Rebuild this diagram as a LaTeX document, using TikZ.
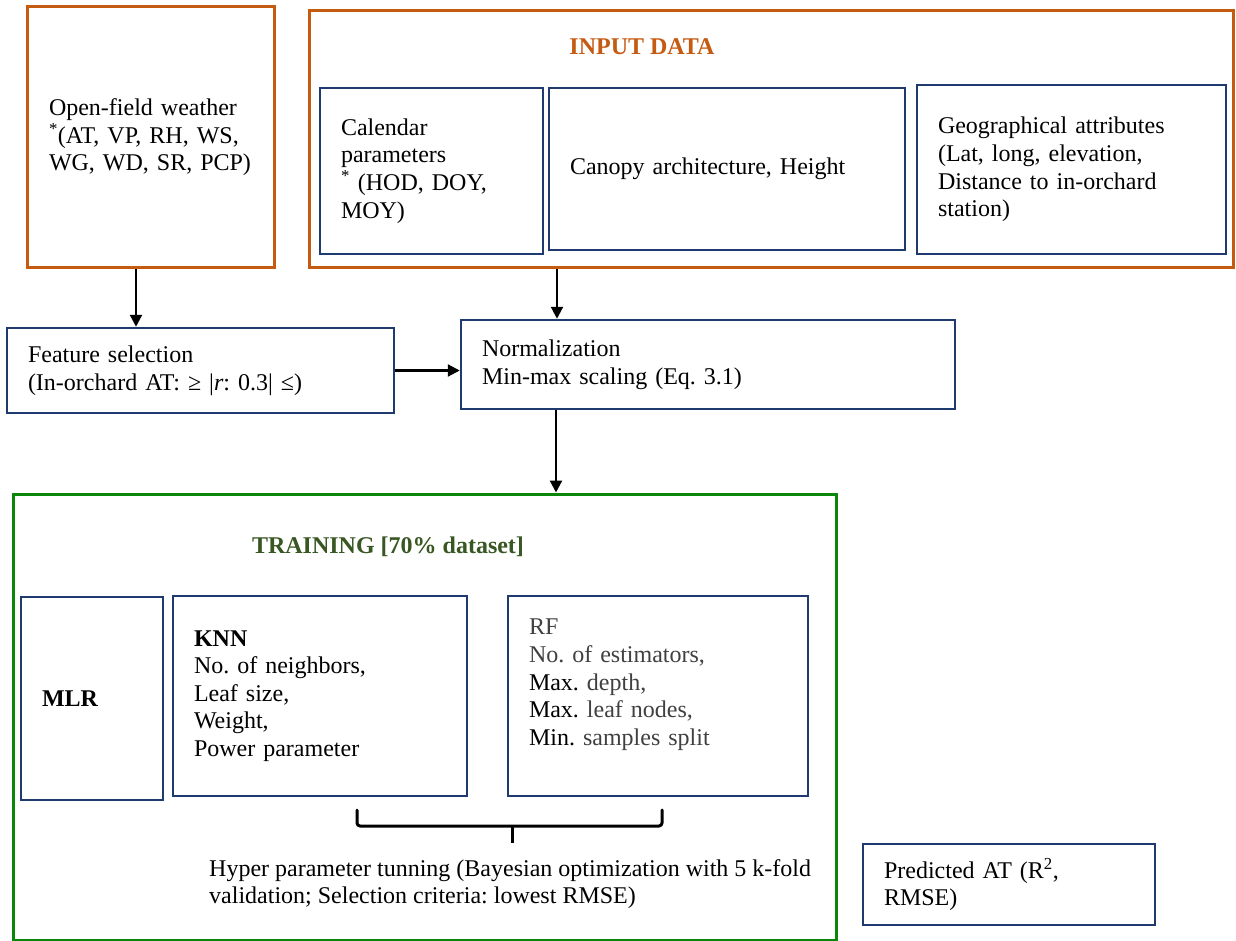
\documentclass[tikz,border=0pt]{standalone}
\usepackage{fontspec}
\setmainfont{Liberation Serif}
\usetikzlibrary{arrows.meta}
\definecolor{orng}{HTML}{C55A11}
\definecolor{navy}{HTML}{1F3A6E}
\definecolor{grn}{HTML}{0A870A}
\definecolor{dgrn}{HTML}{385723}
\definecolor{rfgray}{HTML}{404040}
\frenchspacing
\tikzset{
  txt/.style={font=\fontsize{24}{27.6}\selectfont},
  obox/.style={draw=orng, line width=3pt, fill=white, inner sep=0pt},
  nbox/.style={draw=navy, line width=2.5pt, fill=white, txt, align=left, inner xsep=21pt, inner ysep=0pt},
  gbox/.style={draw=grn, line width=3pt, inner sep=0pt},
  arr/.style={line width=2.2pt, -{Triangle[length=12pt,width=12pt]}},
  ttl/.style={txt, font=\fontsize{24}{27.6}\selectfont\bfseries, inner sep=0pt}
}
\begin{document}
\begin{tikzpicture}[x=1pt,y=-1pt]
\useasboundingbox[fill=white] (0,0) rectangle (1236,941);

% top row
\node[obox, nbox, draw=orng, line width=3pt, minimum width=247pt, minimum height=261pt, text width=203pt] (of) at (150.5,137.5)
  {Open-field weather\\\textsuperscript{*}(AT, VP, RH, WS,\\WG, WD, SR, PCP)};
\node[obox, minimum width=924pt, minimum height=257pt] (in) at (771,139.5) {};
\node[ttl, text=orng] (intitle) at (642,47) {INPUT DATA};
\node[nbox, minimum width=223pt, minimum height=166pt, text width=181pt] (cal) at (431.5,171)
  {Calendar\\parameters\\\textsuperscript{*} (HOD, DOY,\\MOY)};
\node[nbox, minimum width=356pt, minimum height=162pt, text width=314pt] (can) at (727,169)
  {Canopy architecture, Height};
\node[nbox, minimum width=309pt, minimum height=169pt, text width=267pt] (geo) at (1071.5,169.5)
  {Geographical attributes\\(Lat, long, elevation,\\Distance to in-orchard\\station)};

% middle row
\node[nbox, minimum width=387pt, minimum height=85pt, text width=345pt] (fs) at (200.5,370.5)
  {Feature selection\\(In-orchard AT: ≥ |\textit{r}: 0.3| ≤)};
\node[nbox, minimum width=494pt, minimum height=89pt, text width=452pt] (norm) at (708,364.5)
  {Normalization\\Min-max scaling (Eq. 3.1)};

% training
\node[gbox, minimum width=823pt, minimum height=446pt] (tr) at (424.5,717) {};
\node[ttl, text=dgrn] (trtitle) at (388,547) {TRAINING [70\% dataset]};
\node[nbox, minimum width=142pt, minimum height=203pt, text width=100pt] (mlr) at (92,698.5)
  {\textbf{MLR}};
\node[nbox, minimum width=294pt, minimum height=200pt, text width=252pt] (knn) at (320,696)
  {\textbf{KNN}\\No. of neighbors,\\Leaf size,\\Weight,\\Power parameter};
\node[nbox, text=rfgray, minimum width=300pt, minimum height=200pt, text width=258pt] (rf) at (658,696)
  {RF\\No. of estimators,\\\textcolor{black}{Max.} depth,\\\textcolor{black}{Max.} leaf nodes,\\\textcolor{black}{Min.} samples split\\\mbox{}};

% brace
\draw[line width=3pt, line cap=round, line join=round, rounded corners=3pt]
  (357,810) -- (357,826) -- (662,826) -- (662,810);
\draw[line width=3pt] (512,826) -- (512,843);
\node[txt, anchor=west, align=left, inner sep=0pt] (hyp) at (209,884)
  {Hyper parameter tunning (Bayesian optimization with 5 k-fold\\validation; Selection criteria: lowest RMSE)};

\node[nbox, minimum width=292pt, minimum height=81pt, text width=250pt] (pred) at (1009,884.5)
  {Predicted AT (R\textsuperscript{2},\\RMSE)};

% arrows
\coordinate (c1) at (136,0);
\coordinate (c2) at (557,0);
\coordinate (c3) at (556,0);
\draw[arr] (of.south -| c1) -- (fs.north -| c1);
\draw[arr] (fs.east) -- (fs.east -| norm.west);
\draw[arr] (in.south -| c2) -- (norm.north -| c2);
\draw[arr] (norm.south -| c3) -- (tr.north -| c3);
\end{tikzpicture}
\end{document}
